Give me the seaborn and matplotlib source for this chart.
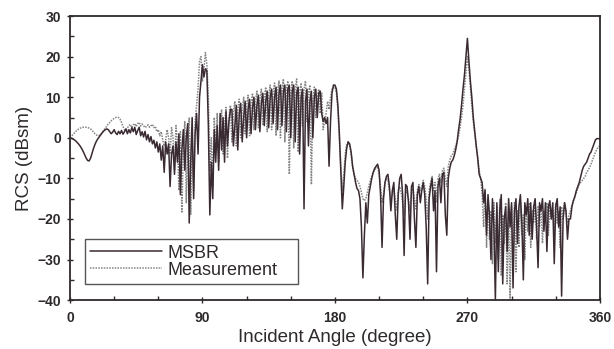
import numpy as np
import pandas as pd
import matplotlib
matplotlib.use("Agg")
import matplotlib.pyplot as plt
from matplotlib.ticker import MultipleLocator, FixedLocator
import seaborn as sns

# Incident angle grid (degrees), one sample per degree
angles = list(range(0, 361))

# RCS predicted by the MSBR method (dBsm)
msbr_rcs = [
    0.0, -0.1, -0.3, -0.5, -0.8, -1.2, -1.6, -2.1, -2.7, -3.4,
    -4.2, -5.0, -5.6, -5.7, -5.0, -3.8, -2.6, -1.6, -0.8, -0.2,
    0.3, 0.8, 1.3, 1.7, 2.0, 2.2, 2.0, 1.5, 1.0, 1.4,
    2.0, 1.2, 0.8, 1.6, 1.0, 1.8, 0.9, 1.5, 2.2, 1.0,
    2.0, 1.2, 2.5, 1.5, 2.6, 0.8, 1.8, 2.6, 0.5, 1.5,
    0.2, 1.6, -0.5, 0.8, -1.0, 0.3, -1.5, -0.6, -2.5, -1.0,
    -3.5, -1.5, -5.5, -2.0, -8.5, -1.0, -4.0, -1.5, -12.0, -4.0,
    -2.0, -9.0, -1.0, -6.0, 1.0, -14.0, -3.0, 2.0, -8.0, 0.0,
    3.5, -21.0, -6.0, 5.0, -15.0, 1.0, 6.0, -4.0, 10.0, 14.0,
    18.0, 15.0, 17.0, 16.5, 3.0, -19.0, -6.0, -15.0, 2.0, -6.0,
    3.0, -8.0, 6.0, -3.0, 5.0, -6.0, 6.5, -2.0, 4.0, 7.0,
    7.0, -2.0, 3.0, 8.0, -3.0, 6.0, 8.5, -1.0, 5.0, 9.0,
    0.0, 7.0, 9.5, 1.0, 7.5, 10.0, 2.0, 8.0, 10.5, 1.5,
    8.5, 11.0, 3.0, 9.0, 11.5, 2.5, 10.0, 12.0, 3.5, 10.0,
    12.5, 2.0, 11.0, 13.0, 3.0, 11.5, 13.0, 1.5, 12.0, 13.0,
    0.0, 11.5, 13.0, -1.0, 11.0, 12.5, -4.0, 10.0, 12.0, -17.5,
    9.0, 12.0, -2.0, 9.0, 11.5, 0.0, 10.0, 12.0, 5.0, 11.0,
    11.5, 6.0, 4.0, 5.0, 3.5, 5.0, -7.0, 4.0, 11.0, 13.0,
    13.0, 12.0, 8.0, 1.0, -8.0, -17.5, -12.0, -6.0, -2.5, -1.0,
    -1.5, -3.5, -7.0, -9.0, -11.0, -12.5, -13.0, -15.0, -22.0, -34.5,
    -24.0, -16.0, -21.0, -14.0, -12.0, -10.0, -8.5, -7.5, -7.0, -6.5,
    -8.0, -14.0, -27.0, -15.0, -11.0, -9.5, -9.0, -12.0, -18.0, -13.0,
    -11.0, -19.0, -25.0, -14.0, -10.0, -9.0, -14.0, -29.0, -11.5, -12.0,
    -16.0, -25.0, -12.0, -11.0, -20.0, -27.0, -14.0, -12.0, -16.0, -13.0,
    -11.0, -14.0, -22.0, -36.0, -15.0, -12.0, -10.0, -18.0, -13.0, -33.0,
    -12.0, -10.0, -16.0, -9.0, -8.5, -19.0, -24.0, -10.0, -7.5, -6.0,
    -5.5, -4.5, -3.0, -1.0, 2.0, 4.5, 8.0, 12.0, 15.5, 20.0,
    24.5, 19.0, 14.0, 10.0, 5.0, 1.5, -2.0, -5.0, -9.0, -10.0,
    -11.0, -16.0, -13.0, -24.0, -14.0, -19.0, -30.0, -15.0, -22.0, -40.0,
    -16.0, -33.0, -18.0, -14.0, -36.0, -20.0, -17.0, -28.0, -15.0, -22.0,
    -16.0, -37.0, -18.0, -15.0, -26.0, -17.0, -14.0, -21.0, -35.0, -16.0,
    -19.0, -15.0, -24.0, -16.0, -25.0, -17.0, -15.0, -22.0, -32.0, -16.0,
    -18.0, -15.0, -23.0, -16.0, -28.0, -17.0, -15.5, -20.0, -16.0, -31.0,
    -17.0, -15.0, -22.0, -17.0, -39.0, -20.0, -16.0, -18.0, -25.0, -20.0,
    -20.0, -17.0, -15.5, -14.5, -13.0, -12.0, -11.0, -9.5, -8.0, -7.0,
    -6.5, -6.0, -5.0, -4.0, -3.5, -2.5, -1.5, -0.5, -0.2, -0.2, -0.3,
]

# Measured RCS (dBsm)
measured_rcs = [
    0.0, 0.4, 0.8, 1.2, 1.6, 1.9, 2.2, 2.4, 2.5, 2.6,
    2.6, 2.6, 2.5, 2.4, 2.2, 1.8, 1.4, 1.0, 0.7, 0.5,
    0.6, 0.9, 1.4, 1.9, 2.4, 2.9, 3.4, 3.8, 4.2, 4.5,
    4.8, 5.0, 5.1, 5.0, 4.6, 3.8, 2.8, 2.0, 1.8, 2.4,
    3.0, 3.3, 2.5, 3.2, 3.5, 2.8, 3.5, 3.8, 2.9, 3.4,
    3.0, 2.5, 2.8, 3.2, 2.6, 3.0, 3.3, 2.5, 2.8, 1.5,
    2.0, 0.5, 1.5, -0.5, -2.0, -0.5, 2.0, 0.0, -4.0, 2.5,
    0.0, -8.0, 3.0, -1.0, -13.0, 1.5, -18.5, -3.0, 4.0, -16.0,
    0.0, 5.0, -19.0, -2.0, -13.0, 4.0, 8.0, 12.0, 19.0, 20.0,
    14.0, 17.0, 21.0, 18.0, 10.0, -8.0, 0.0, -12.0, 5.0, -3.0,
    6.0, -6.0, 2.0, 7.0, -4.0, 3.0, 7.5, -5.0, 5.0, 8.0,
    -1.0, 6.0, 9.0, -2.0, 7.0, 9.5, 0.0, 6.5, 10.0, 1.0,
    8.0, 10.5, 0.5, 8.5, 11.0, 2.0, 9.0, 11.5, 2.5, 9.5,
    12.0, 3.0, 10.0, 12.5, 1.5, 10.5, 13.0, 2.0, 11.0, 13.5,
    0.5, 11.5, 14.0, 0.0, 12.0, 14.5, -1.0, 12.0, 14.0, -9.0,
    11.0, 14.0, -2.5, 12.0, 14.5, -3.5, 11.0, 13.5, 3.0, 12.0,
    14.0, 4.0, 11.0, 13.0, -11.5, 9.0, 12.5, 5.0, 10.0, 12.0,
    6.0, 11.0, 2.0, 4.0, 6.0, 9.0, 7.0, 10.0, 12.0, 12.5,
    12.5, 11.0, 7.0, 0.0, -7.0, -13.0, -9.0, -4.0, -1.5, -1.0,
    -2.0, -4.0, -7.0, -9.0, -10.0, -10.5, -11.0, -12.0, -13.5, -15.0,
    -15.5, -15.0, -13.5, -12.0, -10.5, -9.5, -8.5, -8.0, -7.5, -7.0,
    -9.0, -12.0, -16.0, -14.0, -11.0, -10.0, -10.5, -13.0, -15.0, -14.0,
    -12.5, -15.0, -18.0, -13.0, -12.0, -13.5, -16.0, -19.0, -14.0, -13.0,
    -15.0, -18.0, -13.5, -12.5, -15.0, -17.5, -13.0, -11.5, -13.0, -12.0,
    -10.5, -12.0, -15.0, -20.0, -13.0, -11.0, -9.5, -13.0, -11.0, -16.0,
    -10.0, -9.0, -11.0, -8.0, -7.5, -10.0, -12.0, -7.0, -5.5, -4.5,
    -4.0, -3.0, -2.0, -1.0, 0.5, 2.5, 5.0, 8.0, 12.0, 16.0,
    20.0, 17.0, 12.5, 8.0, 4.0, 1.0, -2.0, -5.0, -8.0, -10.0,
    -14.0, -22.0, -12.5, -27.0, -15.0, -25.0, -18.0, -31.0, -16.0, -26.0,
    -17.0, -30.0, -15.0, -34.0, -19.0, -26.0, -16.0, -36.0, -18.0, -40.0,
    -17.0, -30.0, -16.0, -33.0, -18.0, -27.0, -16.0, -24.0, -19.0, -30.0,
    -17.0, -23.0, -16.0, -27.0, -18.0, -21.0, -16.0, -25.0, -17.0, -22.0,
    -16.5, -26.0, -18.0, -21.0, -16.0, -24.0, -17.0, -20.0, -18.0, -23.0,
    -16.0, -21.0, -18.0, -27.0, -17.0, -20.0, -16.0, -19.0, -21.0, -19.0,
    -18.0, -16.5, -15.5, -14.5, -13.5, -12.5, -11.5, -11.0, -10.5, -10.0,
    -9.5, -8.5, -8.0, -7.3, -6.5, -5.5, -4.5, -3.5, -2.8, -2.2, -2.0,
]

x_ticks = [0, 90, 180, 270, 360]
y_ticks = [-40, -30, -20, -10, 0, 10, 20, 30]

sns.set_style("ticks")
plt.rcParams["font.family"] = ["Liberation Sans", "DejaVu Sans"]

ink = "#2e2a2c"
df = pd.DataFrame({"angle": angles, "MSBR": msbr_rcs, "Measurement": measured_rcs})

fig = plt.figure(figsize=(6.14, 3.49), dpi=100)
ax = fig.add_axes([0.114, 0.14, 0.863, 0.814])

sns.lineplot(data=df, x="angle", y="Measurement", ax=ax, color="#858585",
             linewidth=1.1, linestyle=(0, (1, 0.8)), label="Measurement",
             zorder=2)
sns.lineplot(data=df, x="angle", y="MSBR", ax=ax, color="#3a2a32",
             linewidth=1.1, label="MSBR", zorder=3)

ax.set_xlim(0, 360)
ax.set_ylim(-40, 30)
ax.xaxis.set_major_locator(FixedLocator(x_ticks))
ax.xaxis.set_minor_locator(MultipleLocator(30))
ax.yaxis.set_major_locator(FixedLocator(y_ticks))
ax.yaxis.set_minor_locator(MultipleLocator(5))
ax.tick_params(axis="both", which="major", direction="inout", length=5,
               width=1.0, color=ink, labelsize=10, labelcolor=ink)
ax.tick_params(axis="x", which="major", pad=5)
ax.tick_params(axis="y", which="major", pad=4)
ax.tick_params(axis="both", which="minor", direction="in", length=3,
               width=1.0, color=ink)
for lbl in ax.get_xticklabels() + ax.get_yticklabels():
    lbl.set_fontweight("bold")

for s in ax.spines.values():
    s.set_visible(True)
    s.set_color(ink)
    s.set_linewidth(1.3)

ax.set_xlabel("Incident Angle (degree)", fontsize=13.5, color=ink, labelpad=3)
ax.set_ylabel("RCS (dBsm)", fontsize=13.5, color=ink, labelpad=3)

# Legend box stretched over a fixed strip in the lower-left corner
handles, labels = ax.get_legend_handles_labels()
order = [labels.index("MSBR"), labels.index("Measurement")]
leg = ax.legend([handles[i] for i in order], [labels[i] for i in order],
                loc="lower left", bbox_to_anchor=(0.028, 0.056, 0.402, 0.145),
                mode="expand", frameon=True, fancybox=False, edgecolor=ink,
                fontsize=13, handlelength=4.0, handletextpad=0.3,
                borderpad=0.3, labelspacing=0.0, borderaxespad=0)
leg.get_frame().set_linewidth(1.0)
for t in leg.get_texts():
    t.set_color(ink)

fig.savefig("out.png", dpi=100)
